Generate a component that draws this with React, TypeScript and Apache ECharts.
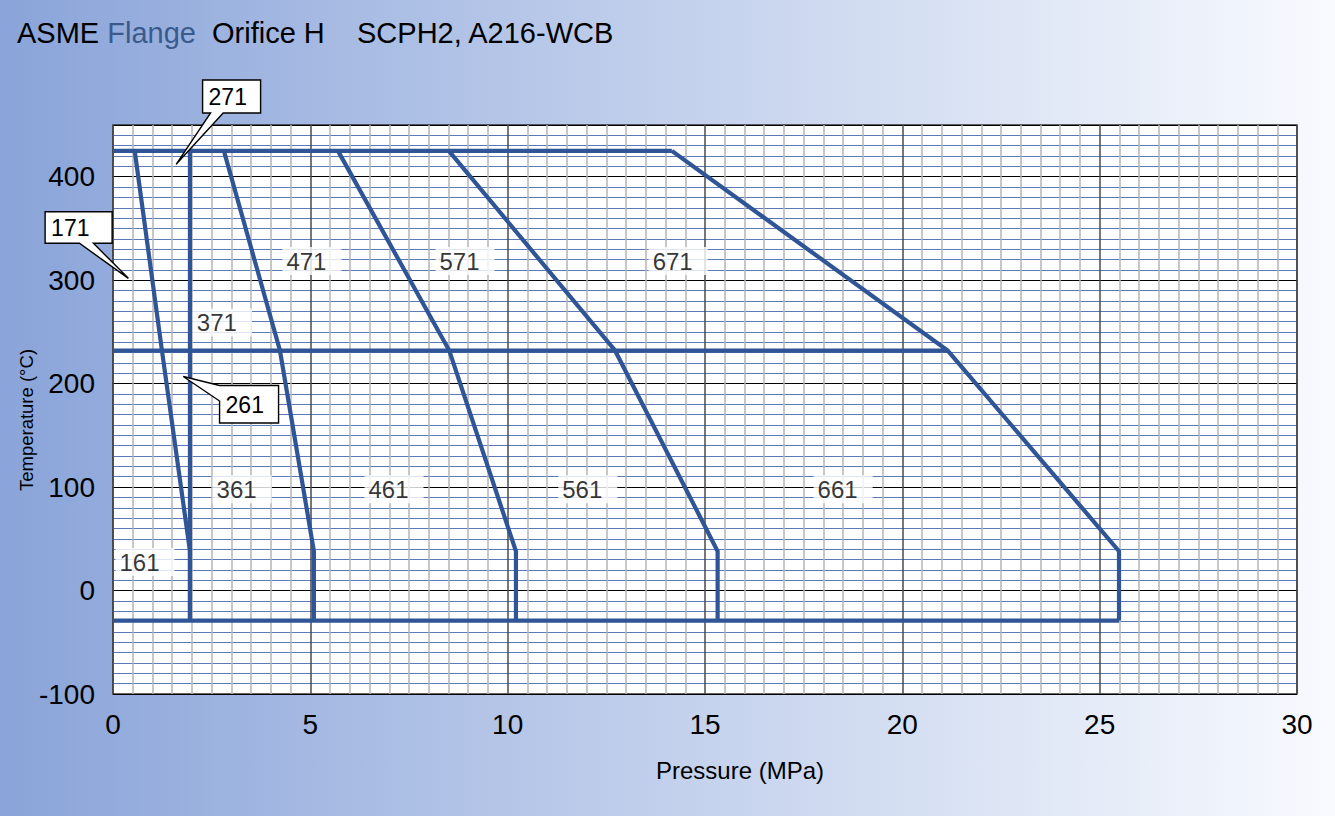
import React, { useEffect, useRef } from 'react';
import * as echarts from 'echarts';

const FONT = '"Liberation Sans", Arial, Helvetica, sans-serif';

// Axis ranges (MPa, °C)
const X_RANGE = [0, 30];
const Y_RANGE = [-100, 450];
const X_INTERVAL = 5;
const Y_INTERVAL = 100;
const Y_MINOR_INTERVAL = 10;

// Temperatures of the rating break points (°C)
const TEMPS = [-29, 38, 232, 425];

// Pressure (MPa) of each class at TEMPS
const CLASS_150 = [1.95, 1.95, 1.24, 0.55];
const CLASS_300 = [5.09, 5.09, 4.23, 2.81];
const CLASS_600 = [10.21, 10.21, 8.52, 5.7];
const CLASS_900 = [15.32, 15.32, 12.72, 8.51];
const CLASS_1500 = [25.49, 25.49, 21.15, 14.16];

// Vertical limit line at the class 150 (38 °C) pressure
const LIMIT_150_TEMPS = [-29, 425];

// Horizontal limit temperatures; they run from 0 MPa to the class 1500 curve
const LIMIT_TEMPS = [425, 232, -29];

// Region labels
const REGION_LABELS = ['471', '571', '671', '371', '361', '461', '561', '661', '161'];
const REGION_P = [5.04, 8.92, 14.32, 2.77, 3.27, 7.12, 12.03, 18.5, 0.81];
const REGION_T = [318.5, 318.5, 318.5, 259, 98, 98, 98, 98, 27.5];

// Callout labels: box top-left and pointer tip in data coordinates
const CALLOUT_LABELS = ['271', '171', '261'];
const CALLOUT_BOX = [
  [2.27, 493.5],
  [-1.72, 366.2],
  [2.7, 198.2],
];
const CALLOUT_TIP = [
  [1.6, 412.0],
  [0.39, 301.8],
  [1.78, 206.9],
];

const LINE_COLOR = '#2f5597';

type Pt = number[];
const CALLOUT_GEOM: { w: number; h: number; outline: (w: number, h: number, t: Pt) => Pt[] }[] = [
  { w: 58, h: 33, outline: (w, h, t) => [[0, 0], [w, 0], [w, h], [20.6, h], t, [8, h], [0, h]] },
  { w: 67, h: 31.6, outline: (w, h, t) => [[0, 0], [w, 0], [w, h], [48.3, h], t, [34.3, h], [0, h]] },
  { w: 59, h: 37.5, outline: (w, h, t) => [[0, 0], [w, 0], [w, h], [0, h], [0, 15.5], t] },
];

function classPath(p: number[]) {
  return TEMPS.map((t, i) => [p[i], t]);
}

function lineSeries(name: string, data: number[][]) {
  return {
    name,
    type: 'line',
    data,
    showSymbol: false,
    symbol: 'none',
    xAxisIndex: 0,
    yAxisIndex: 0,
    lineStyle: { color: LINE_COLOR, width: 4.2, join: 'miter' },
    z: 5,
  };
}

export default function App() {
  const ref = useRef<HTMLDivElement>(null);

  useEffect(() => {
    if (!ref.current) return;
    const chart = echarts.init(ref.current, undefined, { renderer: 'svg' });

    const horiz = LIMIT_TEMPS.map((t) => {
      const idx = TEMPS.indexOf(t);
      return lineSeries('limit ' + t, [
        [X_RANGE[0], t],
        [CLASS_1500[idx], t],
      ]);
    });

    const option: any = {
      animation: false,
      backgroundColor: {
        type: 'linear',
        x: 0,
        y: 0,
        x2: 1,
        y2: 0,
        colorStops: [
          { offset: 0, color: '#8aa4d9' },
          { offset: 0.5, color: '#c2d0ec' },
          { offset: 1, color: '#f8fafe' },
        ],
      },
      title: {
        left: 12,
        top: 13,
        text: '{a|ASME} {b|Flange}  {a|Orifice H}    {a|SCPH2, A216-WCB}',
        textStyle: {
          fontFamily: FONT,
          fontSize: 29,
          fontWeight: 'normal',
          rich: {
            a: { fontFamily: FONT, fontSize: 29, color: '#000' },
            b: { fontFamily: FONT, fontSize: 29, color: '#3b5a8c' },
          },
        },
      },
      grid: {
        left: 113,
        right: 38,
        top: 125,
        bottom: 122,
        show: true,
        backgroundColor: '#ffffff',
        borderColor: '#333',
        borderWidth: 1.5,
      },
      xAxis: [
        {
          type: 'value',
          min: X_RANGE[0],
          max: X_RANGE[1],
          interval: X_INTERVAL,
          z: 3,
          axisLine: { show: false },
          axisTick: { show: false },
          axisLabel: { fontFamily: FONT, fontSize: 28, color: '#000', margin: 16 },
          splitLine: { show: true, lineStyle: { color: '#4a4a4a', width: 1.5 } },
          minorTick: { show: false, splitNumber: 10 },
          minorSplitLine: { show: true, lineStyle: { color: '#b4b4b4', width: 1.5 } },
        },
      ],
      yAxis: [
        {
          type: 'value',
          min: Y_RANGE[0],
          max: Y_RANGE[1],
          interval: Y_INTERVAL,
          z: 2,
          axisLine: { show: false },
          axisTick: { show: false },
          axisLabel: {
            fontFamily: FONT,
            fontSize: 28,
            color: '#000',
            margin: 18,
            formatter: (v: number) => (v === Y_RANGE[1] ? '' : String(v)),
          },
          splitLine: { show: true, lineStyle: { color: '#000', width: 1 } },
        },
        {
          type: 'value',
          min: Y_RANGE[0],
          max: Y_RANGE[1],
          interval: Y_MINOR_INTERVAL,
          position: 'left',
          z: 1,
          axisLine: { show: false },
          axisTick: { show: false },
          axisLabel: { show: false },
          splitLine: { show: true, lineStyle: { color: '#5a79b6', width: 1.2 } },
        },
      ],
      graphic: [
        {
          type: 'text',
          left: 740 - 84,
          top: 772 - 14,
          style: { text: 'Pressure (MPa)', fontFamily: FONT, fontSize: 24, fill: '#000' },
        },
        {
          type: 'text',
          x: 26,
          y: 420,
          rotation: Math.PI / 2,
          style: {
            text: 'Temperature (°C)',
            fontFamily: FONT,
            fontSize: 18.5,
            fill: '#000',
            align: 'center',
            verticalAlign: 'middle',
          },
        },
      ],
      series: [
        ...horiz,
        lineSeries('limit 150', LIMIT_150_TEMPS.map((t) => [CLASS_150[1], t])),
        lineSeries('Class 150', classPath(CLASS_150)),
        lineSeries('Class 300', classPath(CLASS_300)),
        lineSeries('Class 600', classPath(CLASS_600)),
        lineSeries('Class 900', classPath(CLASS_900)),
        lineSeries('Class 1500', classPath(CLASS_1500)),
        {
          name: 'regions',
          type: 'scatter',
          symbolSize: 1,
          itemStyle: { color: 'rgba(0,0,0,0)' },
          z: 8,
          data: REGION_LABELS.map((l, i) => ({ value: [REGION_P[i], REGION_T[i]], name: l })),
          label: {
            show: true,
            position: 'inside',
            formatter: (p: any) => p.name,
            fontFamily: FONT,
            fontSize: 24,
            color: '#000',
            textBorderWidth: 0,
            backgroundColor: '#fff',
            lineHeight: 24,
            padding: [2, 15, 2, 4],
          },
        },
        {
          name: 'callouts',
          type: 'custom',
          z: 10,
          clip: false,
          data: CALLOUT_BOX.map((b, i) => [b[0], b[1], CALLOUT_TIP[i][0], CALLOUT_TIP[i][1]]),
          encode: { x: [0, 2], y: [1, 3] },
          renderItem: (params: any, api: any) => {
            const i = params.dataIndex;
            const b = api.coord([api.value(0), api.value(1)]);
            const t = api.coord([api.value(2), api.value(3)]);
            const g = CALLOUT_GEOM[i];
            const rel = [t[0] - b[0], t[1] - b[1]];
            const pts = g.outline(g.w, g.h, rel).map((p) => [p[0] + b[0], p[1] + b[1]]);
            return {
              type: 'group',
              children: [
                {
                  type: 'polygon',
                  shape: { points: pts },
                  style: { fill: '#fff', stroke: '#000', lineWidth: 1.4 },
                },
                {
                  type: 'text',
                  style: {
                    text: CALLOUT_LABELS[i],
                    x: b[0] + 6,
                    y: b[1] + g.h / 2 + 1,
                    verticalAlign: 'middle',
                    align: 'left',
                    fontFamily: FONT,
                    fontSize: 23,
                    fill: '#000',
                  },
                },
              ],
            };
          },
        },
      ],
    };

    chart.setOption(option);
    return () => chart.dispose();
  }, []);

  return (
    <div
      ref={ref}
      style={{ position: 'fixed', left: 0, top: 0, width: 1335, height: 816 }}
    />
  );
}
